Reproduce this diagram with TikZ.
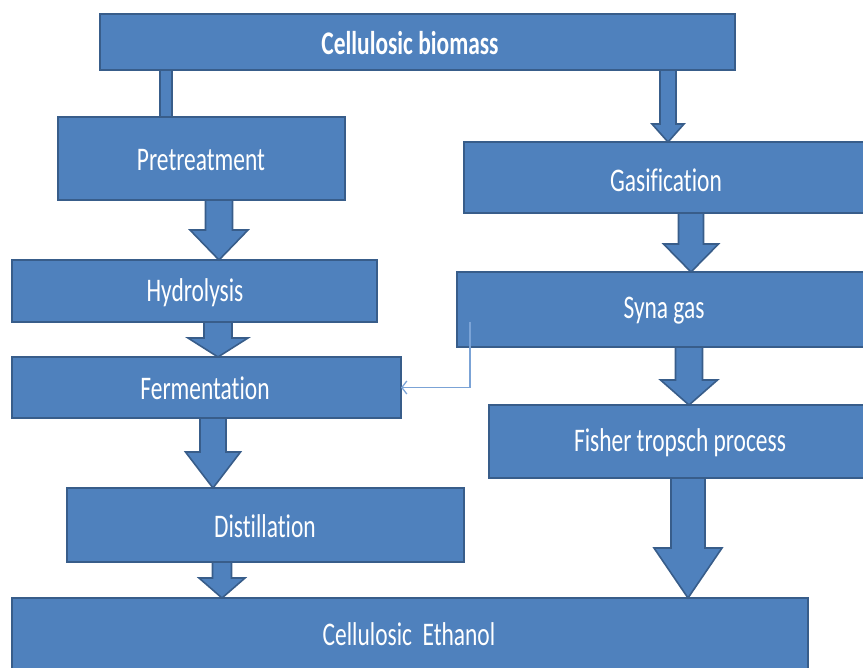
\documentclass[tikz,border=0pt]{standalone}
\usepackage{fontspec}
\setmainfont{Carlito}[Ligatures=NoCommon]
\usepackage{graphicx}
\usetikzlibrary{calc,arrows.meta}
\definecolor{boxfill}{HTML}{4F81BD}
\definecolor{boxline}{HTML}{385D8A}
\definecolor{connline}{HTML}{7BA3D6}
\tikzset{
  box/.style={draw=boxline, line width=2.2pt, fill=boxfill, inner sep=0pt, outer sep=0pt},
  blockarr/.style={draw=boxline, line width=1.6pt, fill=boxfill, line join=miter},
  lbl/.style={text=white, inner sep=0pt, font=\fontsize{33}{36}\selectfont},
  conn/.style={draw=connline, line width=1.3pt},
}
\newcommand\boxnode[8]{%
  \node[box, anchor=north west, minimum width={(#4-#2)*1pt}, minimum height={(#5-#3)*1pt}] (#1) at (#2,#3) {};
  \node[lbl] (#1-t) at (#7,#8) {\scalebox{0.71}[1]{#6}};
}
% #1 from, #2 to, #3 x, #4 shaft half, #5 head half, #6 head length
\newcommand\barrow[6]{%
  \path[blockarr] let \p1=(#1.south), \p2=(#2.north) in
   ({#3-#4},\y1) -- ({#3+#4},\y1) -- ({#3+#4},{\y2+#6pt}) -- ({#3+#5},{\y2+#6pt})
   -- (#3,\y2) -- ({#3-#5},{\y2+#6pt}) -- ({#3-#4},{\y2+#6pt}) -- cycle;
}
\begin{document}
\begin{tikzpicture}[x=1pt,y=-1pt]
\useasboundingbox (0,0) rectangle (863,668);
\boxnode{top}{100}{14}{735}{70}{\bfseries Cellulosic biomass}{410}{43}
\boxnode{pre}{58}{117}{345}{200}{Pretreatment}{201}{160}
\boxnode{gas}{464}{142}{870}{213}{Gasification}{666}{180}
\boxnode{hyd}{12}{260}{377}{322}{Hydrolysis}{195}{293}
\boxnode{syn}{457}{272}{870}{347}{Syna gas}{664}{311}
\boxnode{fer}{12}{357}{401}{418}{Fermentation}{205}{388}
\boxnode{fis}{489}{405}{870}{478}{Fisher tropsch process}{680}{443}
\boxnode{dis}{67}{488}{464}{562}{Distillation}{265}{526}
\boxnode{eth}{12}{598}{808}{675}{Cellulosic~~Ethanol}{409}{634}
% plain bar from top to pretreatment
\path[blockarr] let \p1=(top.south), \p2=(pre.north) in (160,\y1) rectangle (172,\y2);
\barrow{top}{gas}{668}{8}{16}{18}
\barrow{pre}{hyd}{219}{13.5}{29}{30}
\barrow{gas}{syn}{691}{12.5}{27.5}{28}
\barrow{hyd}{fer}{218}{14}{30}{19}
\barrow{syn}{fis}{689}{13.5}{28.5}{25}
\barrow{fer}{dis}{213}{13}{27.5}{36}
\barrow{dis}{eth}{222}{9.5}{23}{20}
\barrow{fis}{eth}{688}{17}{34}{50}
% thin connector
\coordinate (c1) at (470,322);
\draw[conn, -{Straight Barb[length=5pt,width=13pt]}] (c1) |- (fer.east);
\end{tikzpicture}
\end{document}
